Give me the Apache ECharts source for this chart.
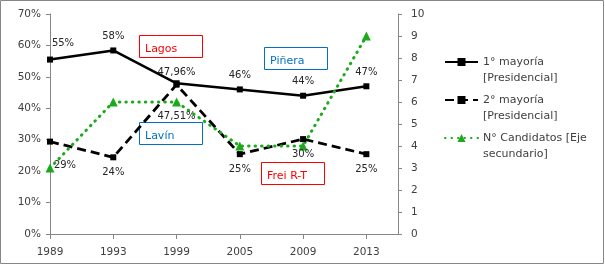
<!DOCTYPE html>
<html>
<head>
<meta charset="utf-8">
<script src="https://cdn.jsdelivr.net/npm/echarts@6/dist/echarts.min.js"></script>
<style>
  html, body { margin: 0; padding: 0; background: #fff; }
  #chart { width: 605px; height: 265px; }
</style>
</head>
<body>
<div id="chart"></div>
<script>
// datos
var years = ['1989', '1993', '1999', '2005', '2009', '2013'];
var primera = [55.5, 58.4, 47.96, 46, 44, 47];           // 1° mayoría (%)
var primeraLbl = ['55%', '58%', '47,96%', '46%', '44%', '47%'];
var segunda = [29.4, 24.4, 47.51, 25.4, 30.2, 25.4];      // 2° mayoría (%)
var segundaLbl = ['29%', '24%', '47,51%', '25%', '30%', '25%'];
var candidatos = [3, 6, 6, 4, 4, 9];                       // eje secundario
var serieNames = ['1° mayoría\n[Presidencial]', '2° mayoría\n[Presidencial]', 'N° Candidatos [Eje\nsecundario]'];

var FONT = 'DejaVu Sans';
var GRAY = '#868686';
var GREEN = '#1BAA1B';

var myChart = echarts.init(document.getElementById('chart'));

function pts(arr, lbls, extra) {
    return arr.map(function (v, i) {
        var d = { value: [i, v] };
        if (lbls) d.label = { formatter: lbls[i] };
        if (extra && extra[i]) d.label = Object.assign(d.label || {}, extra[i]);
        return d;
    });
}

// ajustes de etiquetas puntuales
var s1Extra = { 0: { offset: [13, -2] }, 2: { offset: [0, 3] } };
var s2Extra = { 0: { offset: [15, 9] }, 2: { offset: [0, 17] } };

// cuadros de texto (anotaciones)
function caja(x, y, txt, color) {
    return {
        type: 'group', left: x, top: y,
        children: [
            { type: 'rect', shape: { x: 0.5, y: 0.5, width: 63, height: 22 }, style: { fill: '#fff', stroke: color, lineWidth: 1 } },
            { type: 'text', x: 6, y: 14, style: { text: txt, fill: color, font: '11px "DejaVu Sans"', verticalAlign: 'middle' } }
        ]
    };
}

var option = {
    animation: false,
    textStyle: { fontFamily: FONT },
    grid: { left: 50, right: 207, top: 14, bottom: 31 },
    legend: {
        orient: 'vertical',
        left: 444,
        top: 38,
        padding: 0,
        itemWidth: 33,
        itemHeight: 10,
        itemGap: -10,
        formatter: function (n) { return ' \n' + n; },
        textStyle: { fontSize: 11, color: '#404040', fontFamily: FONT, lineHeight: 16 },
        data: serieNames
    },
    xAxis: {
        type: 'value', min: 0, max: 5.5, interval: 1,
        axisLine: { lineStyle: { color: GRAY } },
        axisTick: { length: 5, lineStyle: { color: GRAY }, customValues: [0, 1, 2, 3, 4, 5] },
        axisLabel: {
            customValues: [0, 1, 2, 3, 4, 5],
            margin: 13, fontSize: 10.5, color: '#404040', fontFamily: FONT,
            formatter: function (v) { return years[v] || ''; }
        },
        splitLine: { show: false }
    },
    yAxis: [{
        type: 'value', min: 0, max: 70, interval: 10,
        axisLine: { show: true, lineStyle: { color: GRAY } },
        axisTick: { show: true, length: 4, lineStyle: { color: GRAY } },
        axisLabel: { formatter: '{value}%', margin: 9, fontSize: 10.5, color: '#404040', fontFamily: FONT },
        splitLine: { show: false }
    }, {
        type: 'value', min: 0, max: 10, interval: 1,
        axisLine: { show: true, lineStyle: { color: GRAY } },
        axisTick: { show: true, length: 4, lineStyle: { color: GRAY } },
        axisLabel: { margin: 13, fontSize: 10.5, color: '#404040', fontFamily: FONT },
        splitLine: { show: false }
    }],
    series: [{
        name: serieNames[0],
        type: 'line',
        yAxisIndex: 0,
        data: pts(primera, primeraLbl, s1Extra),
        symbol: 'rect', symbolSize: 6,
        itemStyle: { color: '#000' },
        lineStyle: { color: '#000', width: 2.5 },
        label: { show: true, position: 'top', distance: 6, fontSize: 10, color: '#262626', fontFamily: FONT }
    }, {
        name: serieNames[1],
        type: 'line',
        yAxisIndex: 0,
        data: pts(segunda, segundaLbl, s2Extra),
        symbol: 'rect', symbolSize: 6,
        itemStyle: { color: '#000' },
        lineStyle: { color: '#000', width: 2.8, type: [9, 5] },
        label: { show: true, position: 'bottom', distance: 7, fontSize: 10, color: '#262626', fontFamily: FONT }
    }, {
        name: serieNames[2],
        type: 'line',
        yAxisIndex: 1,
        data: pts(candidatos),
        symbol: 'triangle', symbolSize: 9,
        itemStyle: { color: GREEN },
        lineStyle: { color: GREEN, width: 3, type: [0.5, 6], cap: 'round' }
    }],
    graphic: [
        { type: 'rect', shape: { x: 0.5, y: 0.5, width: 603, height: 263 }, style: { fill: 'none', stroke: GRAY, lineWidth: 1 }, silent: true },
        caja(139, 35, 'Lagos', '#FF0000'),
        caja(264, 47, 'Piñera', '#0070C0'),
        caja(139, 122, 'Lavín', '#0070C0'),
        caja(261, 162, 'Frei R-T', '#FF0000')
    ]
};

myChart.setOption(option);
</script>
</body>
</html>
